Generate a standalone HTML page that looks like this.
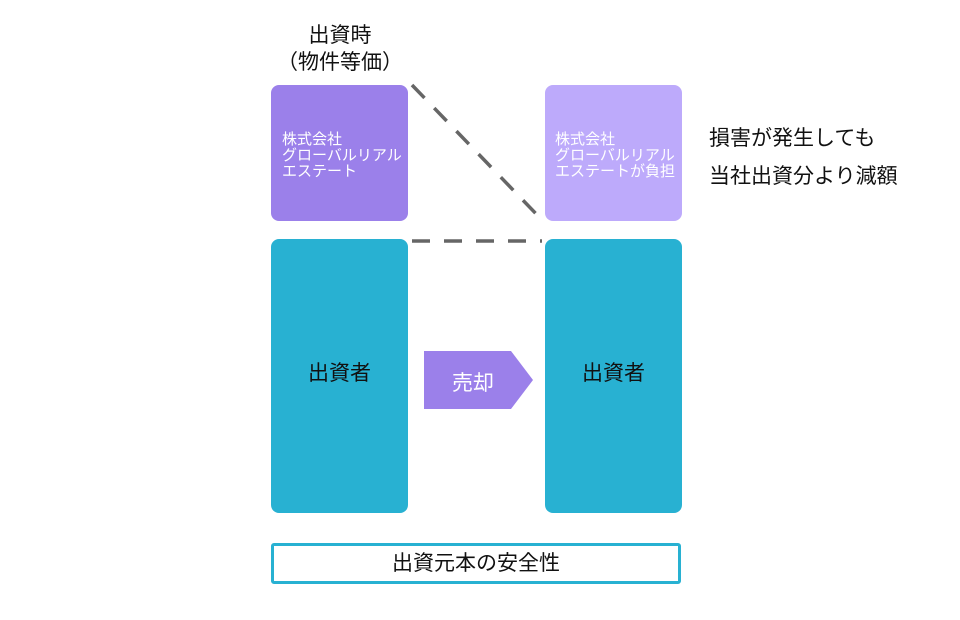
<!DOCTYPE html>
<html><head><meta charset="utf-8"><style>
body{margin:0;width:960px;height:620px;background:#fff;position:relative;font-family:"Liberation Sans","Noto Sans CJK JP",sans-serif;overflow:hidden}
.a{position:absolute}
.box{position:absolute;border-radius:8px}
.sm{color:#fff;font-size:15px;line-height:16px}
</style></head><body>
<div class="a" style="left:260px;top:22px;width:160px;text-align:center;font-size:21px;line-height:27px;color:#111">出資時<br>（物件等価）</div>
<div class="box" style="left:271px;top:85px;width:137px;height:136px;background:#9b80ea"></div>
<div class="a sm" style="left:282px;top:132px;white-space:nowrap">株式会社<br>グローバルリアル<br>エステート</div>
<div class="box" style="left:545px;top:85px;width:137px;height:136px;background:#bdaafb"></div>
<div class="a sm" style="left:555px;top:132px;white-space:nowrap">株式会社<br>グローバルリアル<br>エステートが負担</div>
<div class="a" style="left:709px;top:120px;font-size:21px;line-height:38px;color:#111;white-space:nowrap">損害が発生しても<br>当社出資分より減額</div>
<svg class="a" style="left:0;top:0" width="960" height="620">
<line x1="412" y1="85" x2="542" y2="220" stroke="#666" stroke-width="3.5" stroke-dasharray="18,14"/>
<line x1="412" y1="241" x2="542" y2="241" stroke="#666" stroke-width="3.5" stroke-dasharray="18,14"/>
<polygon points="424,351 511,351 533,380 511,409 424,409" fill="#9b80ea"/>
</svg>
<div class="box" style="left:271px;top:239px;width:137px;height:274px;background:#28b1d2"></div>
<div class="a" style="left:271px;top:357px;width:137px;text-align:center;font-size:21px;color:#111">出資者</div>
<div class="box" style="left:545px;top:239px;width:137px;height:274px;background:#28b1d2"></div>
<div class="a" style="left:545px;top:357px;width:137px;text-align:center;font-size:21px;color:#111">出資者</div>
<div class="a" style="left:424px;top:367px;width:98px;text-align:center;font-size:21px;color:#fff">売却</div>
<div class="a" style="left:271px;top:543px;width:404px;height:35px;border:3px solid #28b1d2;border-radius:3px;text-align:center;font-size:21px;line-height:35px;color:#111">出資元本の安全性</div>
</body></html>
